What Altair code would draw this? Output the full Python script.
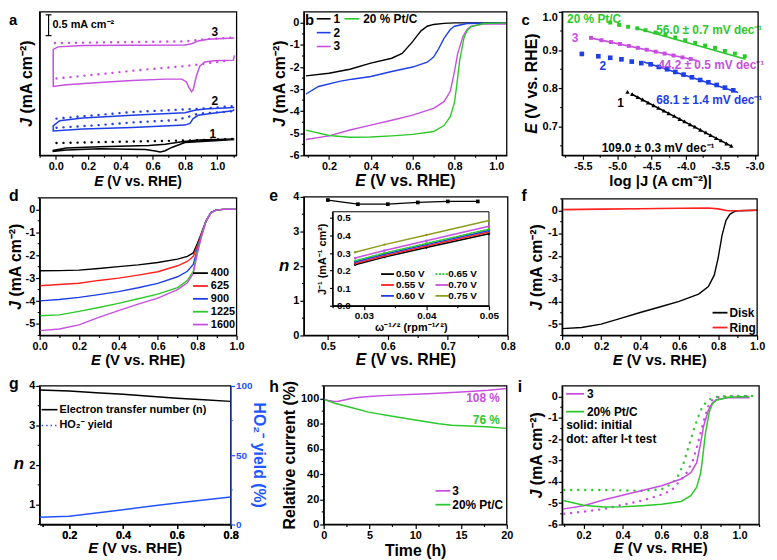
import altair as alt
import pandas as pd

FONT = "Liberation Sans"
K = "#000000"; BL = "#1e3ee6"; MG = "#c64fe0"; GR = "#2cc82c"; RD = "#ff2020"; OL = "#8c9c1c"; GB = "#2255ff"
MINUS = "\u2212"

# ---------------- data ----------------
# (a) cyclic voltammograms (offset, arbitrary baseline)
a3_x = [1.106, 1.10, 0.984, 0.922, 0.892, 0.871, 0.851, 0.841, 0.824, 0.81, 0.78, 0.678, 0.473, 0.269, 0.065, -0.016, -0.016, 0.014, 0.167, 0.473, 0.8, 0.841, 0.882, 0.943, 1.106]
a3_y = [2.34, 2.23, 2.215, 2.185, 2.09, 1.86, 1.54, 1.49, 1.59, 1.72, 1.785, 1.785, 1.754, 1.708, 1.654, 1.615, 2.48, 2.54, 2.57, 2.58, 2.585, 2.615, 2.68, 2.72, 2.75]
a2_x = [1.106, 1.096, 0.984, 0.882, 0.851, 0.831, 0.8, 0.473, 0.167, -0.016, -0.016, 0.024, 0.167, 0.473, 0.8, 0.861, 0.922, 1.106]
a2_y = [1.07, 1.046, 0.99, 0.938, 0.86, 0.746, 0.708, 0.654, 0.615, 0.57, 0.69, 0.81, 0.877, 0.938, 1.0, 1.054, 1.085, 1.12]
a1_x = [1.106, 0.984, 0.8, 0.718, 0.678, 0.647, 0.616, 0.555, 0.269, 0.065, -0.016, -0.016, 0.065, 0.269, 0.576, 0.678, 0.78, 0.882, 1.106]
a1_y = [0.37, 0.34, 0.3, 0.185, 0.108, 0.077, 0.1, 0.138, 0.154, 0.123, 0.092, 0.115, 0.17, 0.2, 0.23, 0.26, 0.32, 0.36, 0.385]
a3u_x = [-0.006, 0.473, 0.8, 0.922, 1.106]; a3u_y = [2.63, 2.654, 2.67, 2.72, 2.76]
a3l_x = [0.004, 0.269, 0.473, 0.678, 0.8, 0.922, 1.086]; a3l_y = [1.8, 1.9, 1.98, 2.05, 2.09, 2.146, 2.23]
a2u_x = [0.004, 0.473, 0.882, 1.106]; a2u_y = [0.86, 1.015, 1.09, 1.154]
a2l_x = [0.004, 0.269, 0.473, 0.739, 0.82, 0.882, 1.086]; a2l_y = [0.646, 0.708, 0.77, 0.823, 0.9, 0.977, 1.03]
a1d_x = [0.004, 0.473, 0.882, 1.106]; a1d_y = [0.29, 0.323, 0.354, 0.385]

# (b) LSV at 1600 rpm
b1_x = [0.09, 0.2, 0.3, 0.4, 0.5, 0.55, 0.6, 0.62, 0.64, 0.67, 0.7, 0.75, 0.8, 1.05]
b1_y = [-2.4, -2.28, -2.1, -1.82, -1.6, -1.38, -0.85, -0.6, -0.36, -0.15, -0.07, -0.02, 0, 0]
b2_x = [0.09, 0.15, 0.25, 0.31, 0.4, 0.5, 0.6, 0.67, 0.7, 0.72, 0.75, 0.78, 0.8, 0.86, 1.05]
b2_y = [-3.22, -2.88, -2.65, -2.55, -2.43, -2.2, -2.0, -1.78, -1.55, -1.25, -0.7, -0.3, -0.15, -0.03, 0]
b3_x = [0.09, 0.2, 0.3, 0.4, 0.5, 0.6, 0.7, 0.75, 0.78, 0.8, 0.815, 0.84, 0.86, 0.88, 0.94, 1.05]
b3_y = [-5.28, -5.12, -4.85, -4.63, -4.41, -4.18, -3.87, -3.57, -3.1, -2.2, -1.4, -0.63, -0.3, -0.15, -0.05, -0.05]
bp_x = [0.09, 0.2, 0.3, 0.4, 0.5, 0.6, 0.7, 0.75, 0.78, 0.8, 0.81, 0.825, 0.845, 0.86, 0.88, 0.94, 1.05]
bp_y = [-4.86, -5.1, -5.18, -5.17, -5.12, -5.05, -4.92, -4.65, -4.25, -3.6, -2.9, -1.7, -0.7, -0.35, -0.17, -0.03, 0]

# (c) Tafel plots
cp_x = [-5.101, -4.971, -4.841, -4.707, -4.587, -4.442, -4.298, -4.154, -4.01, -3.865, -3.721, -3.577, -3.433, -3.288, -3.144]
cp_y = [0.972, 0.966, 0.961, 0.957, 0.952, 0.946, 0.94, 0.933, 0.926, 0.919, 0.912, 0.906, 0.898, 0.891, 0.884]
cpf_x = [-4.731, -3.13]; cpf_y = [0.958, 0.876]
c3_x = [-5.38, -5.23, -5.09, -4.96, -4.83, -4.70, -4.57, -4.44, -4.31, -4.18, -4.05, -3.93]
c3_y = [0.932, 0.926, 0.921, 0.916, 0.911, 0.906, 0.901, 0.896, 0.891, 0.886, 0.881, 0.877]
c3f_x = [-5.389, -3.841]; c3f_y = [0.932, 0.873]
c2_x = [-5.514, -5.274, -5.101, -4.938, -4.788, -4.649, -4.514, -4.394, -4.274, -4.154, -4.034, -3.913, -3.793, -3.673, -3.553, -3.433, -3.312]
c2_y = [0.89, 0.884, 0.88, 0.876, 0.87, 0.866, 0.863, 0.856, 0.85, 0.843, 0.836, 0.829, 0.822, 0.816, 0.809, 0.802, 0.795]
c2f_x = [-4.611, -3.24]; c2f_y = [0.869, 0.789]
c1_x = [-4.85, -4.78, -4.70, -4.63, -4.55, -4.47, -4.40, -4.32, -4.25, -4.17, -4.09, -4.02, -3.94, -3.87, -3.79, -3.71, -3.64, -3.56, -3.49, -3.41, -3.34]
c1_y = [0.791, 0.785, 0.777, 0.771, 0.763, 0.756, 0.749, 0.742, 0.735, 0.728, 0.720, 0.714, 0.706, 0.700, 0.692, 0.685, 0.678, 0.670, 0.664, 0.656, 0.650]
c1f_x = [-4.80, -3.34]; c1f_y = [0.786, 0.649]

# (d) LSV at different rotation rates
d_x = [0.0, 0.1, 0.2, 0.3, 0.4, 0.5, 0.6, 0.7, 0.75, 0.78, 0.8, 0.82, 0.845, 0.87, 0.895, 0.93, 1.0]
d400 = [-2.68, -2.67, -2.65, -2.58, -2.5, -2.42, -2.32, -2.17, -2.05, -1.9, -1.5, -1.07, -0.5, -0.14, -0.03, 0, 0]
d625 = [-3.33, -3.28, -3.22, -3.1, -3.0, -2.87, -2.72, -2.46, -2.27, -2.05, -1.62, -1.1, -0.5, -0.14, -0.03, 0, 0]
d900 = [-3.99, -3.93, -3.84, -3.72, -3.59, -3.42, -3.23, -2.94, -2.7, -2.4, -1.75, -1.15, -0.5, -0.14, -0.03, 0, 0]
d1225 = [-4.64, -4.6, -4.45, -4.28, -4.1, -3.9, -3.7, -3.41, -3.1, -2.7, -1.85, -1.2, -0.5, -0.14, -0.03, 0, 0]
d1600 = [-5.29, -5.22, -5.04, -4.71, -4.42, -4.13, -3.87, -3.5, -3.2, -2.8, -1.95, -1.25, -0.52, -0.14, -0.03, 0, 0]
d_rpm = ["400", "625", "900", "1225", "1600"]

# (e) electron transfer number and K-L plots (inset)
e_x = [0.5, 0.55, 0.6, 0.65, 0.7, 0.75]
e_n = [3.91, 3.79, 3.79, 3.84, 3.87, 3.87]
kl_x = [0.0286, 0.0333, 0.04, 0.05]
kl_050 = [0.233, 0.277, 0.332, 0.41]
kl_055 = [0.241, 0.285, 0.34, 0.42]
kl_060 = [0.249, 0.293, 0.348, 0.428]
kl_065 = [0.257, 0.3, 0.355, 0.436]
kl_070 = [0.272, 0.315, 0.37, 0.452]
kl_075 = [0.305, 0.348, 0.403, 0.485]
kl_labels = ["0.50 V", "0.55 V", "0.60 V", "0.65 V", "0.70 V", "0.75 V"]

# (f) RRDE
f_x = [0.0, 0.1, 0.2, 0.3, 0.4, 0.5, 0.6, 0.7, 0.75, 0.78, 0.8, 0.82, 0.84, 0.86, 0.88, 0.9, 1.0]
f_disk = [-5.2, -5.15, -5.0, -4.75, -4.49, -4.25, -4.0, -3.68, -3.35, -2.85, -2.1, -1.1, -0.45, -0.18, -0.07, -0.02, 0]
fr_x = [0.0, 0.2, 0.4, 0.6, 0.75, 0.8, 0.85, 0.9, 1.0]
f_ring = [0.03, 0.05, 0.07, 0.09, 0.1, 0.06, -0.02, -0.02, 0.0]

# (g) n and HO2- yield
g_x = [0.09, 0.2, 0.3, 0.4, 0.5, 0.6, 0.7, 0.8]
g_n = [3.9, 3.87, 3.83, 3.79, 3.74, 3.69, 3.65, 3.61]
g_yield = [5.2, 6.0, 8.2, 10.7, 13.1, 15.5, 17.7, 19.8]

# (h) chronoamperometry
h3_t = [0, 0.5, 1, 1.5, 2, 3, 4, 5, 7, 10, 12, 15, 18, 20]
h3_y = [99.7, 98.5, 97.8, 97.7, 98.5, 100.0, 101.0, 101.6, 102.5, 103.4, 104.0, 105.2, 106.5, 107.9]
hp_t = [0, 1.3, 3.1, 4.9, 7.5, 10, 12.6, 14, 15.9, 17.7, 20]
hp_y = [99.3, 96, 92.6, 89.2, 86, 82.9, 80, 78.7, 78.2, 77.6, 76.3]

# (i) LSV before / after i-t test
i3d_x = [0.1, 0.2, 0.3, 0.4, 0.5, 0.6, 0.65, 0.7, 0.73, 0.76, 0.78, 0.8, 0.82, 0.84, 0.86, 0.89, 0.95, 1.07]
i3d_y = [-5.5, -5.4, -5.28, -5.08, -4.88, -4.6, -4.4, -3.9, -3.55, -3.0, -2.4, -1.7, -1.0, -0.45, -0.15, -0.03, 0.0, 0.02]
ipd_x = [0.1, 0.3, 0.5, 0.6, 0.65, 0.68, 0.71, 0.73, 0.75, 0.77, 0.79, 0.81, 0.84, 0.88, 0.92, 1.07]
ipd_y = [-4.38, -4.38, -4.42, -4.35, -4.1, -3.8, -3.2, -2.6, -2.0, -1.4, -0.9, -0.45, -0.15, -0.02, 0.02, 0.03]

# ---------------- canvas / panel boxes (page pixels: left, top, right, bottom) ----------------
O = 8            # page margin; canvas coordinate = page pixel - O
WC, HC = 769, 552
BOX = {
    "a": (40, 9, 239, 154), "b": (307, 9, 512, 154), "c": (568, 9, 766, 154),
    "d": (40, 197, 239, 336), "e": (307, 196, 513, 336), "f": (568, 198, 765, 336),
    "g": (40, 387, 233, 527), "h": (327, 387, 512, 527), "i": (568, 387, 767, 527),
}
INSET = (336, 211, 494, 306)


# ---------------- helpers ----------------
def X(domain, box, axis):
    L, _, R, _ = box
    return alt.X("x:Q", scale=alt.Scale(domain=domain, range=[L - O, R - O], nice=False, zero=False), axis=axis)


def Y(domain, box, axis):
    _, T_, _, B = box
    return alt.Y("y:Q", scale=alt.Scale(domain=domain, range=[B - O, T_ - O], nice=False, zero=False), axis=axis)


def xax(title, values, major, fmt, box, **kw):
    return alt.Axis(title=title, values=values, format=fmt, orient="bottom", offset=box[3] - O - HC,
                    labelExpr=f"({major}) ? replace(datum.label, '{MINUS}', '-') : ''",
                    tickSize={"condition": {"test": major, "value": 4}, "value": 2}, **kw)


def yax(title, values, fmt, box, right=False, **kw):
    kw.setdefault("tickSize", 4)
    if right:
        kw.update(orient="right", offset=box[2] - O - WC)
    else:
        kw.update(orient="left", offset=-(box[0] - O))
    return alt.Axis(title=title, values=values, format=fmt,
                    labelExpr=f"replace(datum.label, '{MINUS}', '-')", **kw)


def line(xs, ys, Xe, Ye, color, width=1.4, dash=None, ordered=False):
    d = pd.DataFrame({"x": xs, "y": ys, "i": list(range(len(xs)))})
    props = dict(color=color, strokeWidth=width)
    if dash:
        props["strokeDash"] = dash
        props["strokeCap"] = "round"
    enc = {"x": Xe, "y": Ye}
    if ordered:
        enc["order"] = alt.Order("i:Q")
    return alt.Chart(d).mark_line(**props).encode(**enc)


def pts(xs, ys, Xe, Ye, color, shape="square", size=10):
    d = pd.DataFrame({"x": xs, "y": ys})
    return alt.Chart(d).mark_point(shape=shape, size=size, filled=True, color=color, opacity=1).encode(x=Xe, y=Ye)


def yminor(vals, Ye, x_at, right=False, color=K):
    x0, x1 = (x_at, x_at + 2) if right else (x_at - 2, x_at)
    return alt.Chart(pd.DataFrame({"y": vals})).mark_rule(color=color, strokeWidth=1.1).encode(
        y=Ye, x=alt.value(x0 - O), x2=alt.value(x1 - O))


def T(s, x, y, color=K, size=12, align="left", baseline="middle", angle=0, style="normal"):
    return alt.Chart(pd.DataFrame({"t": [s]})).mark_text(
        text=s, color=color, fontSize=size, font=FONT, fontWeight="bold", fontStyle=style,
        align=align, baseline=baseline, angle=angle).encode(x=alt.value(x - O), y=alt.value(y - O))


def seg(x1, x2, y, color, width=1.6, dash=None):
    props = dict(color=color, strokeWidth=width)
    if dash:
        props["strokeDash"] = dash
    return alt.Chart(pd.DataFrame({"t": [0]})).mark_rule(**props).encode(
        x=alt.value(x1 - O), x2=alt.value(x2 - O), y=alt.value(y - O))


def vseg(x, y1, y2, color, width=1.2):
    return alt.Chart(pd.DataFrame({"t": [0]})).mark_rule(color=color, strokeWidth=width).encode(
        x=alt.value(x - O), y=alt.value(y1 - O), y2=alt.value(y2 - O))


def frame(box, width=1.3):
    L, T_, R, B = box
    return alt.Chart(pd.DataFrame({"t": [0]})).mark_rect(fillOpacity=0, stroke=K, strokeWidth=width).encode(
        x=alt.value(L - O), x2=alt.value(R - O), y=alt.value(T_ - O), y2=alt.value(B - O))


def letter(ch, x, y, size=16):
    return T(ch, x, y, size=size, baseline="alphabetic")


# axis titles with an italic symbol (widths in em of Liberation Sans Bold)
def xtitle(box, yb, first="E", rest="(V vs. RHE)", lead=0.945, total=6.335, size=15):
    cx = (box[0] + box[2]) / 2
    x0 = cx - total * size / 2
    return [T(first, x0, yb, size=size, baseline="alphabetic", style="italic"),
            T(rest, x0 + lead * size, yb, size=size, baseline="alphabetic")]


def ytitle(box, xb, first="J", rest="(mA cm\u207b\u00b2)", lead=0.834, total=5.45, size=16):
    cy = (box[1] + box[3]) / 2
    y0 = cy + total * size / 2
    return [T(first, xb, y0, size=size, baseline="alphabetic", angle=270, style="italic"),
            T(rest, xb, y0 - lead * size, size=size, baseline="alphabetic", angle=270)]


DOT = [0.1, 7]
TENTHS = [0.0, 0.1, 0.2, 0.3, 0.4, 0.5, 0.6, 0.7, 0.8, 0.9, 1.0]
XE = "round(datum.value*10) % 2 == 0"
NOT = ""
R1, R2, R3 = 185, 366, 556   # baselines of the x titles in the three rows

# ---------------- (a) ----------------
bx = BOX["a"]
Xa = X([-0.1, 1.12], bx, xax(NOT, [-0.1] + TENTHS + [1.1], XE, ".1f", bx))
Ya = Y([0, 3.36], bx, alt.Axis(title=NOT, labels=False, ticks=False, orient="left", offset=-(bx[0] - O)))
pa = alt.layer(
    line(a3u_x, a3u_y, Xa, Ya, MG, 2.4, DOT), line(a3l_x, a3l_y, Xa, Ya, MG, 2.4, DOT),
    line(a2u_x, a2u_y, Xa, Ya, BL, 2.4, DOT), line(a2l_x, a2l_y, Xa, Ya, BL, 2.4, DOT),
    line(a1d_x, a1d_y, Xa, Ya, K, 2.4, DOT),
    line(a3_x, a3_y, Xa, Ya, MG, 1.5, ordered=True),
    line(a2_x, a2_y, Xa, Ya, BL, 1.5, ordered=True),
    line(a1_x, a1_y, Xa, Ya, K, 1.5, ordered=True),
    vseg(49, 12, 33, K), seg(46, 52, 12, K, 1.2), seg(46, 52, 33, K, 1.2),
    T("0.5 mA cm\u207b\u00b2", 53, 22, size=11),
    T("3", 217, 29, align="center"), T("2", 217, 99, align="center"), T("1", 215, 132, align="center"),
    frame(bx), letter("a", 9, 22, 15),
    *xtitle(bx, R1, size=14), *ytitle(bx, 32),
)

# ---------------- (b) ----------------
bx = BOX["b"]
Xb = X([0.08, 1.05], bx, xax(NOT, TENTHS[1:], XE, ".1f", bx))
Yb = Y([-6, 0.5], bx, yax(NOT, [-6, -5, -4, -3, -2, -1, 0], "d", bx))
pb = alt.layer(
    yminor([-5.5, -4.5, -3.5, -2.5, -1.5, -0.5], Yb, bx[0]),
    line(b1_x, b1_y, Xb, Yb, K), line(b2_x, b2_y, Xb, Yb, BL),
    line(b3_x, b3_y, Xb, Yb, MG), line(bp_x, bp_y, Xb, Yb, GR),
    seg(320, 334, 16, K), T("1", 337, 16), seg(348, 363, 16, GR), T("20 % Pt/C", 367, 16),
    seg(320, 334, 30, BL), T("2", 337, 30), seg(320, 334, 44, MG), T("3", 337, 44),
    frame(bx), letter("b", 308, 22, 15),
    *xtitle(bx, R1, size=16), *ytitle(bx, 288),
)

# ---------------- (c) ----------------
bx = BOX["c"]
Xc = X([-5.8, -2.95], bx,
       xax("log |J (A cm\u207b\u00b2)|", [-5.75, -5.5, -5.25, -5.0, -4.75, -4.5, -4.25, -4.0, -3.75, -3.5, -3.25, -3.0],
           "round(datum.value*4) % 2 == 0", ".1f", bx, titleFontSize=15))
Yc = Y([0.625, 1.0], bx, yax(NOT, [0.7, 0.8, 0.9, 1.0], ".1f", bx, labelFlush=True))
pc = alt.layer(
    yminor([0.65, 0.75, 0.85, 0.95], Yc, bx[0]),
    pts(cp_x, cp_y, Xc, Yc, GR, size=16), line(cpf_x, cpf_y, Xc, Yc, GR, 1.6),
    pts(c3_x, c3_y, Xc, Yc, MG, size=16), line(c3f_x, c3f_y, Xc, Yc, MG, 1.6),
    pts(c2_x, c2_y, Xc, Yc, BL, size=22), line(c2f_x, c2f_y, Xc, Yc, BL, 1.6),
    pts(c1_x, c1_y, Xc, Yc, K, shape="triangle-up", size=20), line(c1f_x, c1f_y, Xc, Yc, K, 1.6),
    T("20 % Pt/C", 573, 16, GR), T("3", 581, 35, MG, align="center"),
    T("2", 609, 64, BL, align="center"), T("1", 627, 101, K, align="center"),
    T("56.0 \u00b1 0.7 mV dec\u207b\u00b9", 663, 27, GR),
    T("44.2 \u00b1 0.5 mV dec\u207b\u00b9", 665, 63, MG),
    T("68.1 \u00b1 1.4 mV dec\u207b\u00b9", 663, 98, BL),
    T("109.0 \u00b1 0.3 mV dec\u207b\u00b9", 608, 147, K),
    frame(bx), letter("c", 527, 22, 15),
    *ytitle(bx, 543, first="E", rest="(V vs. RHE)", lead=0.945, total=6.335),
)

# ---------------- (d) ----------------
bx = BOX["d"]
Xd = X([0, 1.0], bx, xax(NOT, TENTHS, XE, ".1f", bx))
Yd = Y([-5.5, 0.5], bx, yax(NOT, [-5, -4, -3, -2, -1, 0], "d", bx))
d_cols = [K, RD, BL, GR, MG]
d_series = [d400, d625, d900, d1225, d1600]
d_rows = [273, 286, 299, 312, 325]
layers_d = [yminor([-5.5, -4.5, -3.5, -2.5, -1.5, -0.5, 0.5], Yd, bx[0])]
layers_d += [line(d_x, s, Xd, Yd, c) for s, c in zip(d_series, d_cols)]
for lab, c, yy in zip(d_rpm, d_cols, d_rows):
    layers_d += [seg(195, 210, yy, c, 1.8), T(lab, 213, yy, size=11)]
layers_d += [frame(bx), letter("d", 9, 200)]
layers_d += xtitle(bx, R2) + ytitle(bx, 21)
pd_ = alt.layer(*layers_d)

# ---------------- (e) ----------------
bx = BOX["e"]
Xe = X([0.46, 0.8], bx, xax(NOT, [0.5, 0.55, 0.6, 0.65, 0.7, 0.75, 0.8], "round(datum.value*20) % 2 == 0", ".1f", bx))
Ye = Y([0, 4], bx, yax(NOT, [0, 1, 2, 3, 4], "d", bx))
main_e = alt.layer(
    yminor([0.5, 1.5, 2.5, 3.5], Ye, bx[0]),
    alt.Chart(pd.DataFrame({"x": e_x, "y": e_n})).mark_line(
        color=K, strokeWidth=1.3, point=alt.OverlayMarkDef(shape="square", size=14, filled=True, color=K)
    ).encode(x=Xe, y=Ye),
    frame(bx), letter("e", 272, 200),
    *xtitle(bx, R2, size=16), T("n", 287, 266, size=17, align="center", style="italic"),
)
ib = INSET
Xin = X([0.025, 0.05], ib,
        xax("\u03c9\u207b\u00b9\u141f\u00b2 (rpm\u207b\u00b9\u141f\u00b2)", [0.025, 0.03, 0.035, 0.04, 0.045, 0.05],
            "round(datum.value*200) % 2 == 0", ".2f", ib, labelFontSize=10, titleFontSize=11, titlePadding=1))
Yin = Y([0, 0.535], ib, yax("J\u207b\u00b9 (mA\u207b\u00b9 cm\u00b2)", [0.0, 0.1, 0.2, 0.3, 0.4, 0.5], ".1f", ib,
                            labelFontSize=10, titleFontSize=11, titlePadding=2, tickSize=3,
                            labelAlign="left", labelPadding=-7))
kl_series = [kl_050, kl_055, kl_060, kl_065, kl_070, kl_075]
kl_cols = [K, RD, BL, GR, MG, OL]
inset_layers = [frame(ib, 1.0)]
for s, c in zip(kl_series, kl_cols):
    inset_layers.append(line(kl_x, s, Xin, Yin, c, 1.5, [2, 1.5] if c == GR else None))
    inset_layers.append(pts(kl_x, s, Xin, Yin, c, shape="circle", size=6))
leg_pos = [(385, 400, 274), (385, 400, 285), (385, 400, 296), (440, 453, 274), (440, 453, 285), (440, 453, 296)]
for (lx, tx, yy), lab, c in zip(leg_pos, kl_labels, kl_cols):
    inset_layers += [seg(lx, lx + 13, yy, c, 1.8, [2, 1.5] if c == GR else None), T(lab, tx, yy, size=10)]
inset_e = alt.layer(*inset_layers)

# ---------------- (f) ----------------
bx = BOX["f"]
Xf = X([0, 1.0], bx, xax(NOT, TENTHS, XE, ".1f", bx))
Yf = Y([-5.5, 0.5], bx, yax(NOT, [-5, -4, -3, -2, -1, 0], "d", bx))
pf = alt.layer(
    yminor([-5.5, -4.5, -3.5, -2.5, -1.5, -0.5, 0.5], Yf, bx[0]),
    line(f_x, f_disk, Xf, Yf, K), line(fr_x, f_ring, Xf, Yf, RD, 1.6),
    seg(720, 735, 313, K, 1.8), T("Disk", 737, 313), seg(720, 735, 328, RD, 1.8), T("Ring", 737, 328),
    frame(bx), letter("f", 527, 200),
    *xtitle(bx, R2), *ytitle(bx, 548),
)

# ---------------- (g) ----------------
bx = BOX["g"]
Xg = X([0.09, 0.8], bx, xax(NOT, [0.1, 0.2, 0.3, 0.4, 0.5, 0.6, 0.7, 0.8], XE, ".1f", bx))
Yg = Y([0.5, 4], bx, yax(NOT, [1, 2, 3, 4], "d", bx))
Yg2 = Y([0, 100], bx, yax(NOT, [0, 50, 100], "d", bx, right=True, zindex=1, labelFontSize=10,
                           domainColor=GB, tickColor=GB, labelColor=GB))
pg_n = alt.layer(
    yminor([0.5, 1.5, 2.5, 3.5], Yg, bx[0]),
    line(g_x, g_n, Xg, Yg, K, 1.5),
    seg(42, 58, 411, K, 1.6), T("Electron transfer number (n)", 60, 411, size=11),
    seg(42, 58, 427, GB, 1.6, [1.5, 3]), T("HO\u2082\u207b yield", 60, 427, size=11),
    frame(bx), letter("g", 9, 390),
    *xtitle(bx, R3), T("n", 19, 466, size=17, align="center", style="italic"),
    T("HO\u2082\u207b yield (%)", 257, 457, GB, size=16, align="center", baseline="alphabetic", angle=90),
)
pg_y = alt.layer(yminor([25, 75], Yg2, bx[2], right=True, color=GB), line(g_x, g_yield, Xg, Yg2, GB, 1.5))

# ---------------- (h) ----------------
bx = BOX["h"]
Xh = X([0, 20], bx, xax("Time (h)", [0, 2.5, 5, 7.5, 10, 12.5, 15, 17.5, 20], "round(datum.value*2) % 10 == 0", "d", bx))
Yh = Y([0, 110], bx, yax(NOT, [0, 20, 40, 60, 80, 100], "d", bx))
ph = alt.layer(
    yminor([10, 30, 50, 70, 90, 110], Yh, bx[0]),
    line(h3_t, h3_y, Xh, Yh, MG, 1.5), line(hp_t, hp_y, Xh, Yh, GR, 1.5),
    T("108 %", 505, 399, MG, align="right"), T("76 %", 505, 421, GR, align="right"),
    seg(440, 455, 493, MG, 1.8), T("3", 457, 493), seg(440, 455, 507, GR, 1.8), T("20% Pt/C", 457, 507),
    frame(bx), letter("h", 272, 393),
    T("Relative current (%)", 298, 457, size=16, align="center", baseline="alphabetic", angle=270),
)

# ---------------- (i) ----------------
bx = BOX["i"]
Xi = X([0.09, 1.1], bx, xax(NOT, TENTHS[1:] + [1.1], XE, ".1f", bx))
Yi = Y([-6, 0.5], bx, yax(NOT, [-6, -5, -4, -3, -2, -1, 0], "d", bx))
pi = alt.layer(
    yminor([-5.5, -4.5, -3.5, -2.5, -1.5, -0.5], Yi, bx[0]),
    line(i3d_x, i3d_y, Xi, Yi, MG, 2.4, DOT), line(ipd_x, ipd_y, Xi, Yi, GR, 2.4, DOT),
    line(b3_x, b3_y, Xi, Yi, MG, 1.5), line(bp_x, bp_y, Xi, Yi, GR, 1.5),
    seg(572, 590, 395, MG, 1.8), T("3", 593, 395), seg(572, 590, 413, GR, 1.8), T("20% Pt/C", 593, 413),
    T("solid: initial", 572, 427), T("dot: after I-t test", 572, 441),
    frame(bx), letter("i", 523, 393),
    *xtitle(bx, R3), *ytitle(bx, 548),
)

# ---------------- assemble on one canvas ----------------
chart = alt.layer(pa, pb, pc, pd_, main_e, inset_e, pf, pg_n, pg_y, ph, pi).resolve_scale(
    x="independent", y="independent"
).properties(
    width=WC, height=HC, autosize=alt.AutoSizeParams(type="none"), padding=0
).configure(font=FONT).configure_axis(
    domainColor="black", domainWidth=1.3, tickColor="black", tickWidth=1.2,
    labelFont=FONT, labelFontWeight="bold", labelFontSize=11, labelColor="black",
    titleFont=FONT, titleFontWeight="bold", titleFontSize=16, titleColor="black",
    grid=False, labelPadding=1, titlePadding=2, labelFlush=False, labelOverlap=False
).configure_view(stroke="transparent")

chart.save("out.html", embed_options={"renderer": "svg", "actions": False})
